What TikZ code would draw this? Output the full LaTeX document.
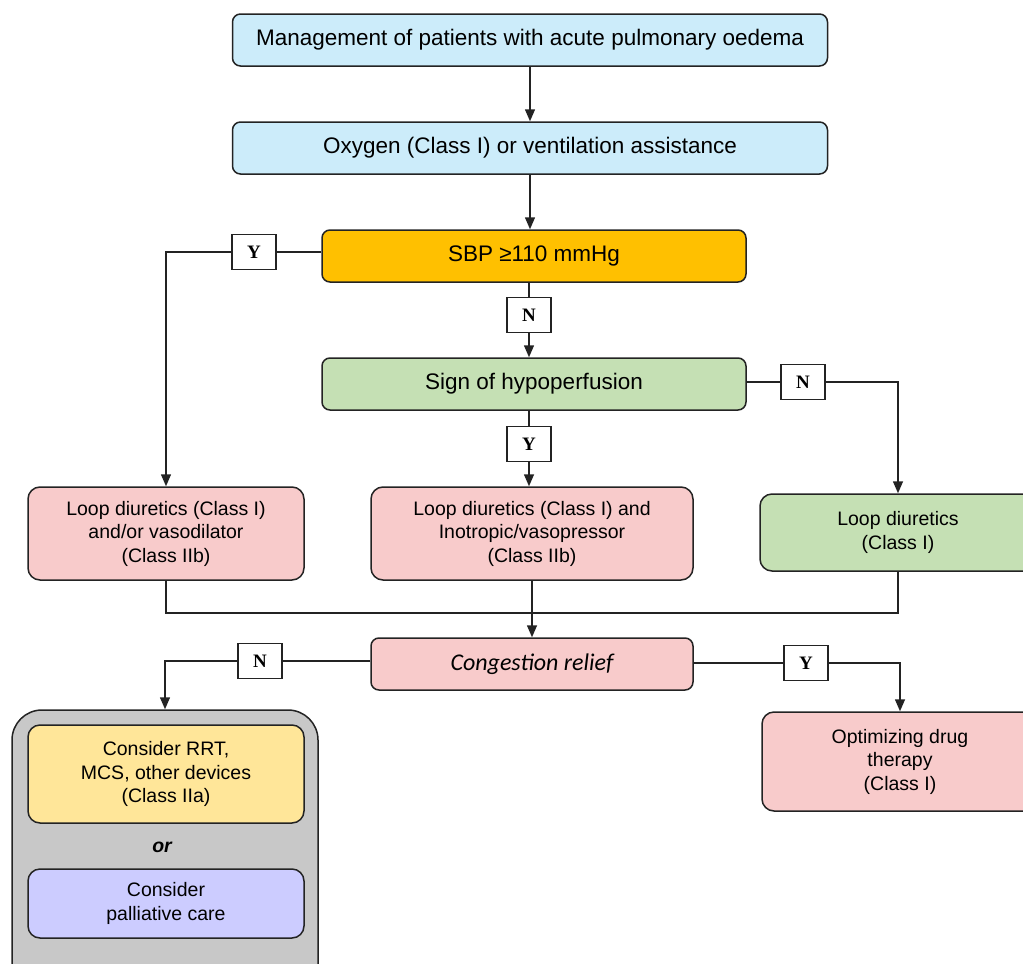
\documentclass[tikz,border=0pt]{standalone}
\usepackage{fontspec}
\setmainfont{Liberation Sans}
\newfontfamily\ynfont{Liberation Serif}
\newfontfamily\calfont{Carlito}
\usetikzlibrary{arrows.meta}
\usetikzlibrary{calc}

\definecolor{skyfill}{RGB}{204,236,250}
\definecolor{sbpfill}{RGB}{255,192,0}
\definecolor{hypofill}{RGB}{197,224,180}
\definecolor{rosefill}{RGB}{248,203,203}
\definecolor{sandfill}{RGB}{255,230,153}
\definecolor{lilacfill}{RGB}{204,204,255}
\definecolor{carefill}{RGB}{200,200,200}
\definecolor{edge}{RGB}{35,35,35}

\begin{document}
\begin{tikzpicture}[
    x=1pt, y=-1pt,
    >={Triangle[length=12pt,width=10pt]},
    every node/.style={inner sep=0pt},
    bigbox/.style={draw=edge, line width=1.5pt, rounded corners=8pt, minimum height=52pt, align=center, font=\fontsize{22.5}{26}\selectfont},
    smallbox/.style={draw=edge, line width=1.5pt, rounded corners=12pt, minimum width=276pt, align=center, font=\fontsize{19.5}{23.5}\selectfont},
    yn/.style={draw=edge, line width=1.3pt, fill=white, minimum width=44pt, minimum height=35pt, font=\ynfont\bfseries\fontsize{19}{22}\selectfont},
    link/.style={line width=1.5pt, draw=edge}
]
\useasboundingbox (0,0) rectangle (1023,964);
\clip (0,0) rectangle (1023,964);

% top of the chart
\node[bigbox, fill=skyfill, minimum width=595pt] (start) at (530,40) {Management of patients with acute pulmonary oedema};
\node[bigbox, fill=skyfill, minimum width=595pt] (oxy) at (530,148) {Oxygen (Class I) or ventilation assistance};
\node[bigbox, fill=sbpfill, minimum width=424pt] (sbp) at (534,256) {SBP ≥110 mmHg};
\node[bigbox, fill=hypofill, minimum width=424pt] (hypo) at (534,384) {Sign of hypoperfusion};

\node[yn] (ysbp) at (254,252) {Y};
\node[yn] (nsbp) at (529,315) {N};
\node[yn] (nhypo) at (803,382) {N};
\node[yn] (yhypo) at (529,444) {Y};

% treatment boxes
\node[smallbox, fill=rosefill, minimum height=93pt] (loopL) at (166,533.5) {Loop diuretics (Class I)\\and/or vasodilator\\(Class IIb)};
\node[smallbox, fill=rosefill, minimum width=322pt, minimum height=93pt] (loopM) at (532,533.5) {Loop diuretics (Class I) and\\Inotropic/vasopressor\\(Class IIb)};
\node[smallbox, fill=hypofill, minimum height=77pt] (loopR) at (898,532.5) {Loop diuretics\\(Class I)};
\coordinate (merge) at (532,613);

\node[bigbox, fill=rosefill, minimum width=322pt, font=\calfont\itshape\fontsize{24}{28}\selectfont] (relief) at (532,664) {Congestion relief};
\node[yn] (nrelief) at (260,661) {N};
\node[yn] (yrelief) at (806,663) {Y};

\node[smallbox, fill=rosefill, minimum height=99pt] (optim) at (900,761.5) {Optimizing drug\\therapy\\(Class I)};

% grey group
\node[draw=edge, line width=1.5pt, fill=carefill, rounded corners=30pt, minimum width=306pt, minimum height=290pt] (care) at (165,855) {};
\node[smallbox, fill=sandfill, minimum height=98pt] (rrt) at (166,774) {Consider RRT,\\MCS, other devices\\(Class IIa)};
\node[font=\bfseries\itshape\fontsize{19.5}{22}\selectfont] (orword) at (162,847) {or};
\node[smallbox, fill=lilacfill, minimum height=69pt] (pall) at (166,903.5) {Consider\\palliative care};

% connectors
\draw[link, ->] (start.south) -- (oxy.north);
\draw[link, ->] (oxy.south) -- (oxy.south |- sbp.north);
\draw[link] (sbp.west |- ysbp.east) -- (ysbp.east);
\draw[link, ->] (ysbp.west) -| (loopL.north);
\draw[link] (sbp.south -| nsbp.north) -- (nsbp.north);
\draw[link, ->] (nsbp.south) -- (nsbp.south |- hypo.north);
\draw[link] (hypo.east |- nhypo.west) -- (nhypo.west);
\draw[link, ->] (nhypo.east) -| (loopR.north);
\draw[link] (hypo.south -| yhypo.north) -- (yhypo.north);
\draw[link, ->] (yhypo.south) -- (yhypo.south |- loopM.north);

\draw[link] (loopL.south) |- (merge);
\draw[link] (loopR.south) |- (merge);
\draw[link, ->] (loopM.south) -- (relief.north);

\draw[link] (relief.west |- nrelief.east) -- (nrelief.east);
\draw[link, ->] (nrelief.west) -| (care.north);
\draw[link] (relief.east |- yrelief.west) -- (yrelief.west);
\draw[link, ->] (yrelief.east) -| (optim.north);
\end{tikzpicture}
\end{document}
